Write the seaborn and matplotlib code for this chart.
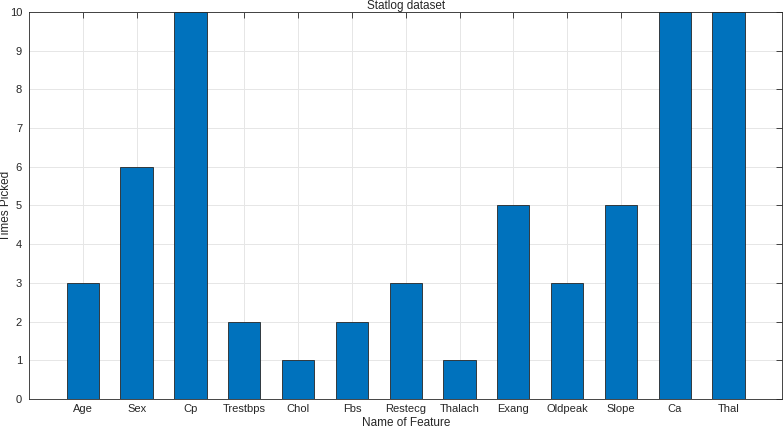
import pandas as pd
import matplotlib
matplotlib.use('Agg')
import matplotlib.pyplot as plt
import seaborn as sns

# Dados do gráfico
features = ['Age', 'Sex', 'Cp', 'Trestbps', 'Chol', 'Fbs', 'Restecg',
            'Thalach', 'Exang', 'Oldpeak', 'Slope', 'Ca', 'Thal']
times_picked = [3, 6, 10, 2, 1, 2, 3, 1, 5, 3, 5, 10, 10]

df = pd.DataFrame({'feature': features, 'picked': times_picked})

sns.set_style('white')
plt.rcParams['font.family'] = ['Liberation Sans', 'DejaVu Sans']

fig = plt.figure(figsize=(7.84, 4.29), dpi=100)
ax = fig.add_axes([0.037, 0.070, 0.961, 0.902])

sns.barplot(data=df, x='feature', y='picked', color='#0072BD', saturation=1,
            width=0.6, edgecolor='#262626', linewidth=0.6, ax=ax, zorder=3)

ax.set_xlim(-1, len(features))
ax.set_ylim(0, 10)
ax.set_yticks(range(0, 11))

# Grade estilo MATLAB
ax.grid(True, color='#e6e6e6', linewidth=0.7, zorder=0)
ax.set_axisbelow(True)
for s in ax.spines.values():
    s.set_color('#262626')
    s.set_linewidth(0.6)
    s.set_visible(True)
ax.tick_params(direction='in', length=4, width=0.6, colors='#262626',
               labelsize=8, top=True, right=True, labeltop=False, labelright=False)
ax.tick_params(axis='y', pad=5)

ax.set_title('Statlog dataset', fontsize=8.5, pad=2)
ax.set_xlabel('Name of Feature', fontsize=8.5, labelpad=2)
ax.set_ylabel('Times Picked', fontsize=8.5)
ax.yaxis.set_label_coords(-0.0225, 0.5)

fig.savefig('out.png', dpi=100)
